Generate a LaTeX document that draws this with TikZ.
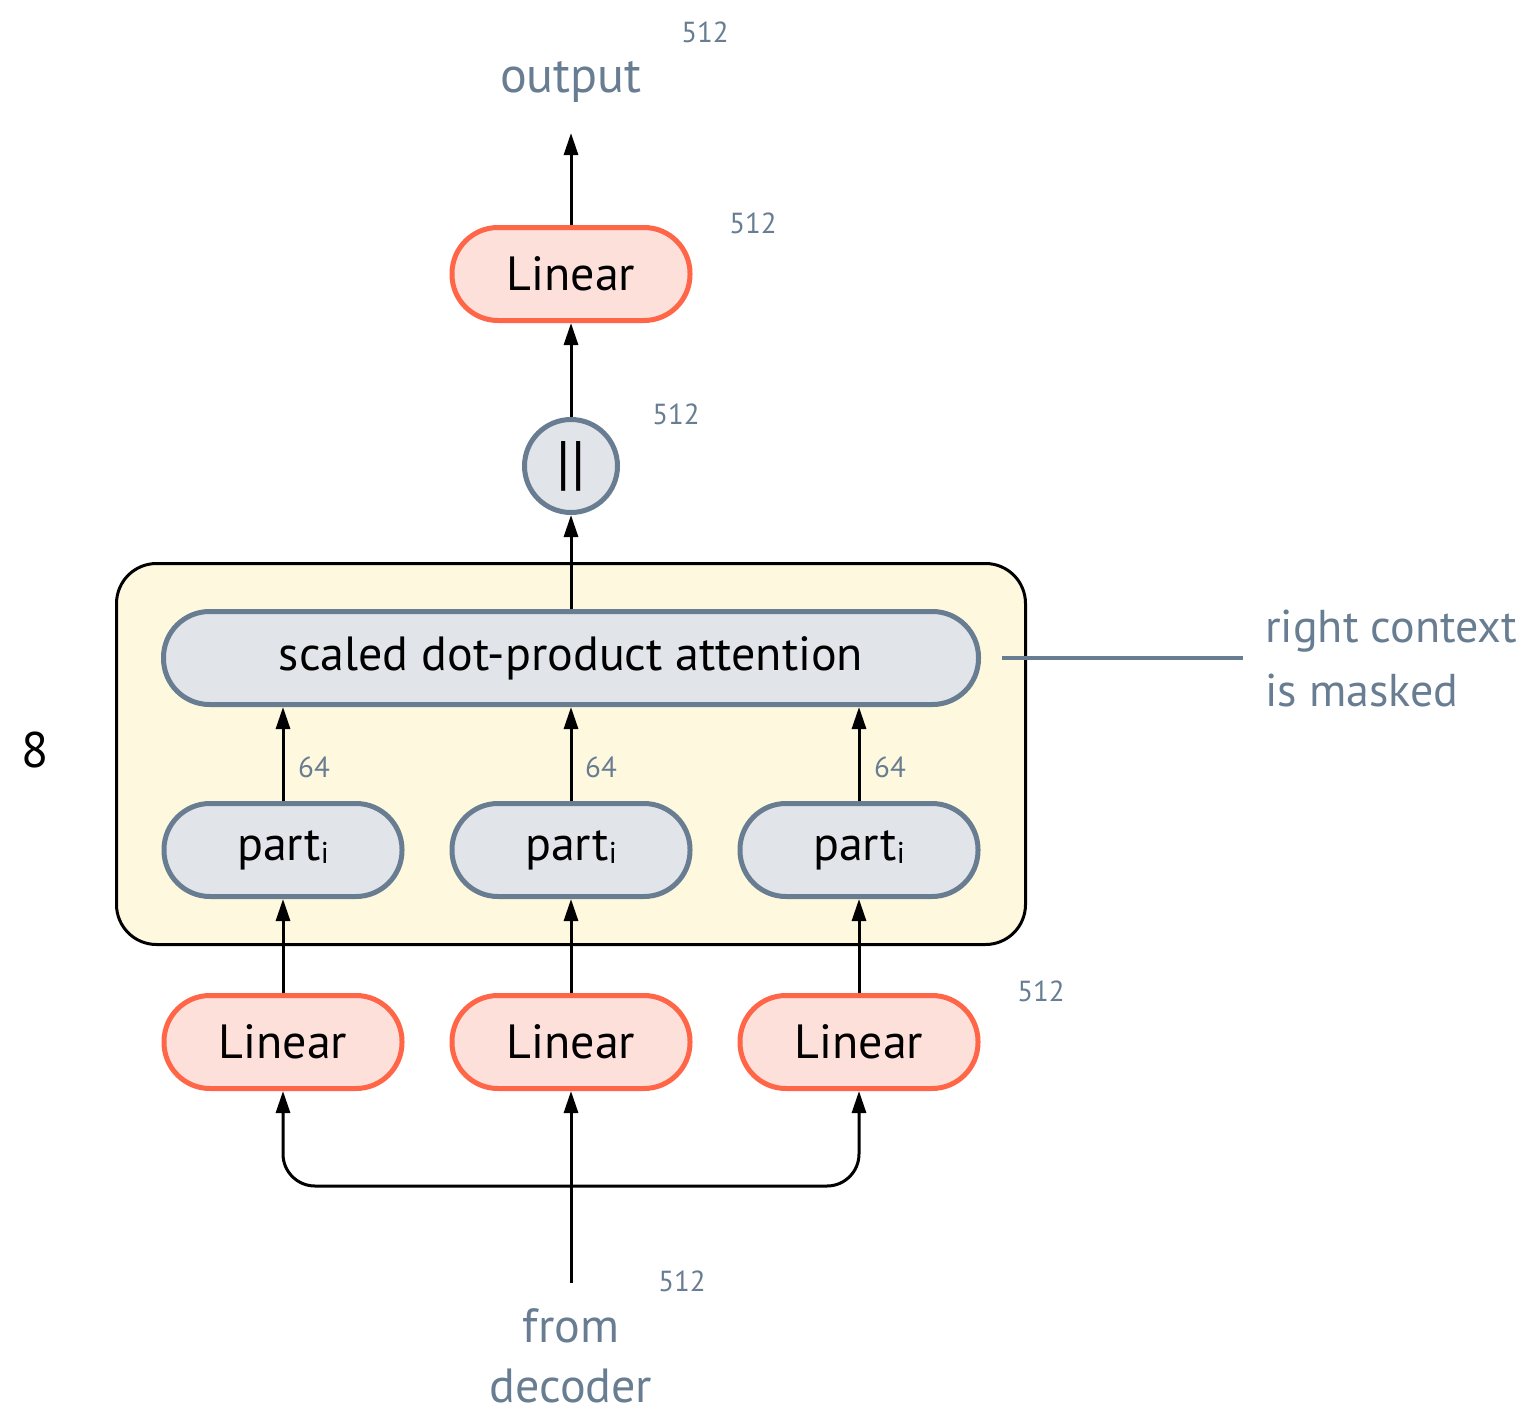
\documentclass[tikz,border=0pt]{standalone}
\usepackage{fontspec}
\setmainfont{PT Sans}
\usetikzlibrary{arrows.meta}
\definecolor{slate}{HTML}{687D91}
\definecolor{tomato}{HTML}{FF6647}
\definecolor{peach}{HTML}{FDE0DA}
\definecolor{cloud}{HTML}{E1E4E9}
\definecolor{cream}{HTML}{FEF9DE}
\newcommand\mainsize{\fontsize{48}{58}\selectfont}
\newcommand\dimsize{\fontsize{29}{34}\selectfont}
\newcommand\notesize{\fontsize{48}{62}\selectfont}
\newcommand\sidesize{\fontsize{46}{64}\selectfont}
\newcommand\parti{part\raisebox{-3pt}{\fontsize{30}{30}\selectfont i}}

\begin{document}
\begin{tikzpicture}[x=1pt,y=-1pt,
  pill/.style={line width=5pt, rounded corners=46pt, minimum width=238pt,
    minimum height=93pt, inner sep=0pt, font=\mainsize},
  lin/.style={pill, draw=tomato, fill=peach},
  grey/.style={pill, draw=slate, fill=cloud},
  arr/.style={line width=3pt, -{Triangle[width=14pt,length=22pt]}},
  dimlbl/.style={text=slate, font=\dimsize, inner sep=0pt},
  note/.style={text=slate, font=\notesize, align=center, inner sep=0pt}]
\useasboundingbox (0,0) rectangle (1537,1413);

% the repeated heads
\node[draw, line width=3pt, fill=cream, rounded corners=40pt,
  minimum width=909pt, minimum height=381pt] (heads) at (571,754) {};

% top of the block
\node[note, font=\fontsize{50}{60}\selectfont] (out) at (571,82) {output};
\coordinate (outtip) at (571,133);
\node[lin] (lintop) at (571,274) {Linear};
\node[circle, draw=slate, fill=cloud, line width=5pt, minimum size=93pt,
  inner sep=0pt] (cat) at (571,466) {\fontsize{60}{60}\selectfont ||};

% attention and parts
\node[grey, minimum width=815pt] (sdpa) at (571,658) {scaled dot-product attention};
\node[grey] (p1) at (283,850) {\parti};
\node[grey] (p2) at (571,850) {\parti};
\node[grey] (p3) at (859,850) {\parti};

% input projections
\node[lin] (l1) at (283,1042) {Linear};
\node[lin] (l2) at (571,1042) {Linear};
\node[lin] (l3) at (859,1042) {Linear};

\coordinate (src) at (571,1283);
\coordinate (bus) at (571,1186);
\node[note, font=\fontsize{48}{60}\selectfont] (dec) at (571,1356) {from\\decoder};

% connectors
\draw[arr] (lintop.north) -- (outtip);
\draw[arr] (cat.north) -- (lintop.south);
\draw[arr] (sdpa.north) -- (cat.south);
\foreach \i in {1,2,3} {
  \draw[arr] (p\i.north) -- (p\i.north |- sdpa.south);
  \draw[arr] (l\i.north) -- (p\i.south);
}
\draw[arr] (src) -- (l2.south);
\draw[arr, rounded corners=32pt] (bus) -| (l1.south);
\draw[arr, rounded corners=32pt] (bus) -| (l3.south);

% dimension labels
\node[dimlbl] (d1) at (705,32) {512};
\node[dimlbl] (d2) at (753,223) {512};
\node[dimlbl] (d3) at (676,414) {512};
\node[dimlbl] (d4) at (1041,991) {512};
\node[dimlbl] (d5) at (682,1281) {512};
\node[dimlbl] (e1) at (314,767) {64};
\node[dimlbl] (e2) at (601,767) {64};
\node[dimlbl] (e3) at (890,767) {64};

\node[font=\fontsize{50}{60}\selectfont, inner sep=0pt] (count) at (35,750) {8};

% masking note
\node[note, font=\sidesize, align=left, anchor=west, inner xsep=22pt] (mask)
  at (1243,658) {right context\\is masked};
\draw[slate, line width=4pt] ([xshift=21pt]sdpa.east) -- (sdpa.east -| mask.west);
\end{tikzpicture}
\end{document}
